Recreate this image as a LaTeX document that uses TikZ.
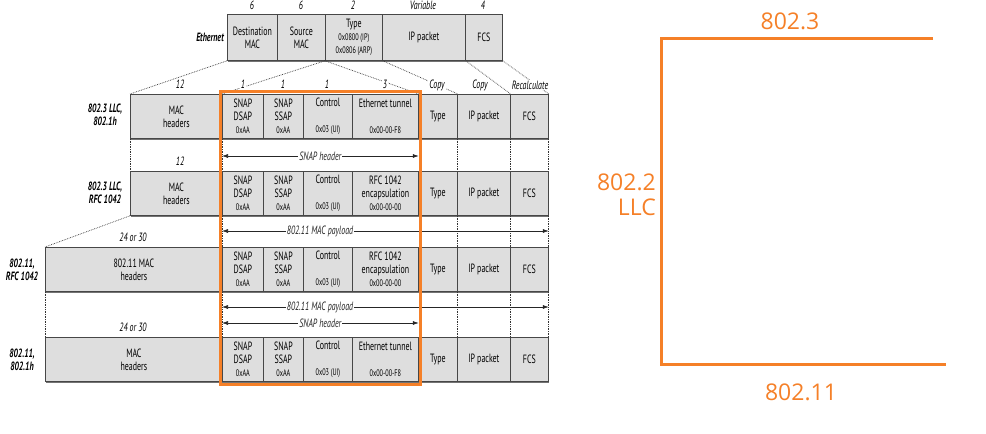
\documentclass[tikz,border=0pt]{standalone}
\usepackage{fontspec}
\setmainfont{PT Sans}[FakeStretch=0.66]
\newfontfamily\llcfont{Open Sans}
\usetikzlibrary{arrows.meta, positioning, shadows}

\definecolor{llcorange}{RGB}{245,128,40}
\newcommand\cellsz{\fontsize{12}{13}\selectfont}
\newcommand\smallsz{\fontsize{9.5}{11}\selectfont}
\newcommand\lblsz{\fontsize{12}{13}\selectfont}

\tikzset{
  cell/.style={draw=black!72, fill=black!13, line width=0.8pt, inner sep=0pt,
    anchor=north west, minimum height=44pt, align=center, font=\cellsz,
    drop shadow={shadow xshift=0.8pt, shadow yshift=-1.6pt, fill=black!55, opacity=1}},
  dimlbl/.style={font=\lblsz\itshape, inner sep=1pt},
  rowlbl/.style={font=\lblsz\bfseries\itshape, align=center, inner sep=0pt},
  guide/.style={densely dotted, line width=0.7pt, black!80},
  span/.style={{Latex[length=6pt,width=4pt]}-{Latex[length=6pt,width=4pt]}, line width=0.6pt, black!85},
  llc/.style={draw=llcorange, line width=3pt},
  llclbl/.style={font=\llcfont\fontsize{23}{25}\selectfont, text=llcorange, inner sep=0pt},
}

\begin{document}
\begin{tikzpicture}[x=1pt, y=-1pt, >=Stealth]
\useasboundingbox (0,0) rectangle (986,434);

% Ethernet frame
\node[cell, minimum width=50pt, minimum height=46pt] (eth-dst) at (227,14) {Destination\\MAC};
\node[cell, minimum width=48pt, minimum height=46pt] (eth-src) at (277,14) {Source\\MAC};
\node[cell, minimum width=57pt, minimum height=46pt] (eth-type) at (325,14) {Type\\{\smallsz 0x0800 (IP)}\\{\smallsz 0x0806 (ARP)}};
\node[cell, minimum width=83pt, minimum height=46pt] (eth-ip) at (382,14) {IP packet};
\node[cell, minimum width=37pt, minimum height=46pt] (eth-fcs) at (465,14) {FCS};
\node[rowlbl, anchor=east] (eth-lbl) at (224,37) {Ethernet};
\node[dimlbl] (eth-n1) at (252,5) {6};
\node[dimlbl] (eth-n2) at (301,5) {6};
\node[dimlbl] (eth-n3) at (353,5) {2};
\node[dimlbl] (eth-n4) at (423,5) {Variable};
\node[dimlbl] (eth-n5) at (483,5) {4};

% the four encapsulations
\foreach \r/\yt in {a/94, b/171, c/247, d/337} {
  \node[cell, minimum width=41pt] (\r-dsap) at (222,\yt) {SNAP\\DSAP\\{\smallsz 0xAA}};
  \node[cell, minimum width=40pt] (\r-ssap) at (263,\yt) {SNAP\\SSAP\\{\smallsz 0xAA}};
  \node[cell, minimum width=49pt] (\r-ctl) at (303,\yt) {Control\\\strut\\{\smallsz 0x03 (UI)}};
  \node[cell, minimum width=39pt] (\r-type) at (418,\yt) {Type};
  \node[cell, minimum width=53pt] (\r-ip) at (457,\yt) {IP packet};
  \node[cell, minimum width=38pt] (\r-fcs) at (510,\yt) {FCS};
}
\node[cell, minimum width=92pt] (a-mac) at (130,94) {MAC\\headers};
\node[cell, minimum width=66pt] (a-tun) at (352,94) {Ethernet tunnel\\\strut\\{\smallsz 0x00-00-F8}};
\node[cell, minimum width=92pt] (b-mac) at (130,171) {MAC\\headers};
\node[cell, minimum width=66pt] (b-tun) at (352,171) {RFC 1042\\encapsulation\\{\smallsz 0x00-00-00}};
\node[cell, minimum width=177pt] (c-mac) at (45,247) {802.11 MAC\\headers};
\node[cell, minimum width=66pt] (c-tun) at (352,247) {RFC 1042\\encapsulation\\{\smallsz 0x00-00-00}};
\node[cell, minimum width=177pt] (d-mac) at (45,337) {MAC\\headers};
\node[cell, minimum width=66pt] (d-tun) at (352,337) {Ethernet tunnel\\\strut\\{\smallsz 0x00-00-F8}};

\node[rowlbl] (a-lbl) at (105,115) {802.3 LLC,\\802.1h};
\node[rowlbl] (b-lbl) at (105,193) {802.3 LLC,\\RFC 1042};
\node[rowlbl] (c-lbl) at (22,270) {802.11,\\RFC 1042};
\node[rowlbl] (d-lbl) at (22,360) {802.11,\\802.1h};

% field sizes
\node[dimlbl] (a-n0) at (180,84) {12};
\node[dimlbl] (b-n0) at (180,161) {12};
\node[dimlbl] (c-n0) at (133,237) {24 or 30};
\node[dimlbl] (d-n0) at (133,327) {24 or 30};

% from Ethernet to 802.3
\draw[guide] (eth-dst.south west) -- (a-mac.north west);
\draw[guide] (eth-type.south west) -- (a-dsap.north west);
\draw[guide] (eth-type.south west) -- (a-tun.north east);
\draw[guide] (eth-type.south east) -- (a-type.north east);
\draw[guide] (eth-ip.south east) -- (a-ip.north east);
\draw[guide] (eth-fcs.south east) -- (a-fcs.north east);
\node[dimlbl, fill=white] (a-n1) at (243,84) {1};
\node[dimlbl] (a-n2) at (283,84) {1};
\node[dimlbl] (a-n3) at (327,84) {1};
\node[dimlbl, fill=white] (a-n4) at (385,84) {3};
\node[dimlbl, fill=white] (a-cp1) at (437,85) {Copy};
\node[dimlbl, fill=white] (a-cp2) at (480,85) {Copy};
\node[dimlbl, fill=white] (a-calc) at (530,85) {Recalculate};

% dotted guides between rows
\draw[guide] (a-mac.south west) -- (b-mac.north west);
\draw[guide] (b-mac.south west) -- (c-mac.north west);
\draw[guide] (c-mac.south west) -- (d-mac.north west);
\foreach \u/\v in {a/b, b/c, c/d} {
  \draw[guide] (\u-dsap.south west) -- (\v-dsap.north west);
  \draw[guide] (\u-ip.south west) -- (\v-ip.north west);
  \draw[guide] (\u-fcs.south west) -- (\v-fcs.north west);
  \draw[guide] (\u-fcs.south east) -- (\v-fcs.north east);
}

% header spans
\coordinate (y-snap1) at (0,156);
\coordinate (y-pay1) at (0,231);
\coordinate (y-pay2) at (0,307);
\coordinate (y-snap2) at (0,323);
\draw[span] (a-dsap.west |- y-snap1) -- (a-tun.east |- y-snap1)
  node[midway, dimlbl, fill=white] {SNAP header};
\draw[span] (b-dsap.west |- y-pay1) -- (b-fcs.east |- y-pay1)
  node[pos=0.3, dimlbl, fill=white] {802.11 MAC payload};
\draw[span] (c-dsap.west |- y-pay2) -- (c-fcs.east |- y-pay2)
  node[pos=0.3, dimlbl, fill=white] {802.11 MAC payload};
\draw[span] (c-dsap.west |- y-snap2) -- (c-tun.east |- y-snap2)
  node[midway, dimlbl, fill=white] {SNAP header};

% LLC/SNAP part
\draw[llc] (220,91) rectangle (420,384);

% layer bracket
\coordinate (br-top) at (933,38);
\coordinate (br-tl) at (661,38);
\coordinate (br-bl) at (661,364);
\coordinate (br-bot) at (946,364);
\draw[llc] (br-top) -- (br-tl) -- (br-bl) -- (br-bot);
\node[llclbl] (l-8023) at (790,21) {802.3};
\node[llclbl, align=right, anchor=east] (l-8022) at (656,195) {802.2\\LLC};
\node[llclbl] (l-80211) at (801,392) {802.11};
\end{tikzpicture}
\end{document}
